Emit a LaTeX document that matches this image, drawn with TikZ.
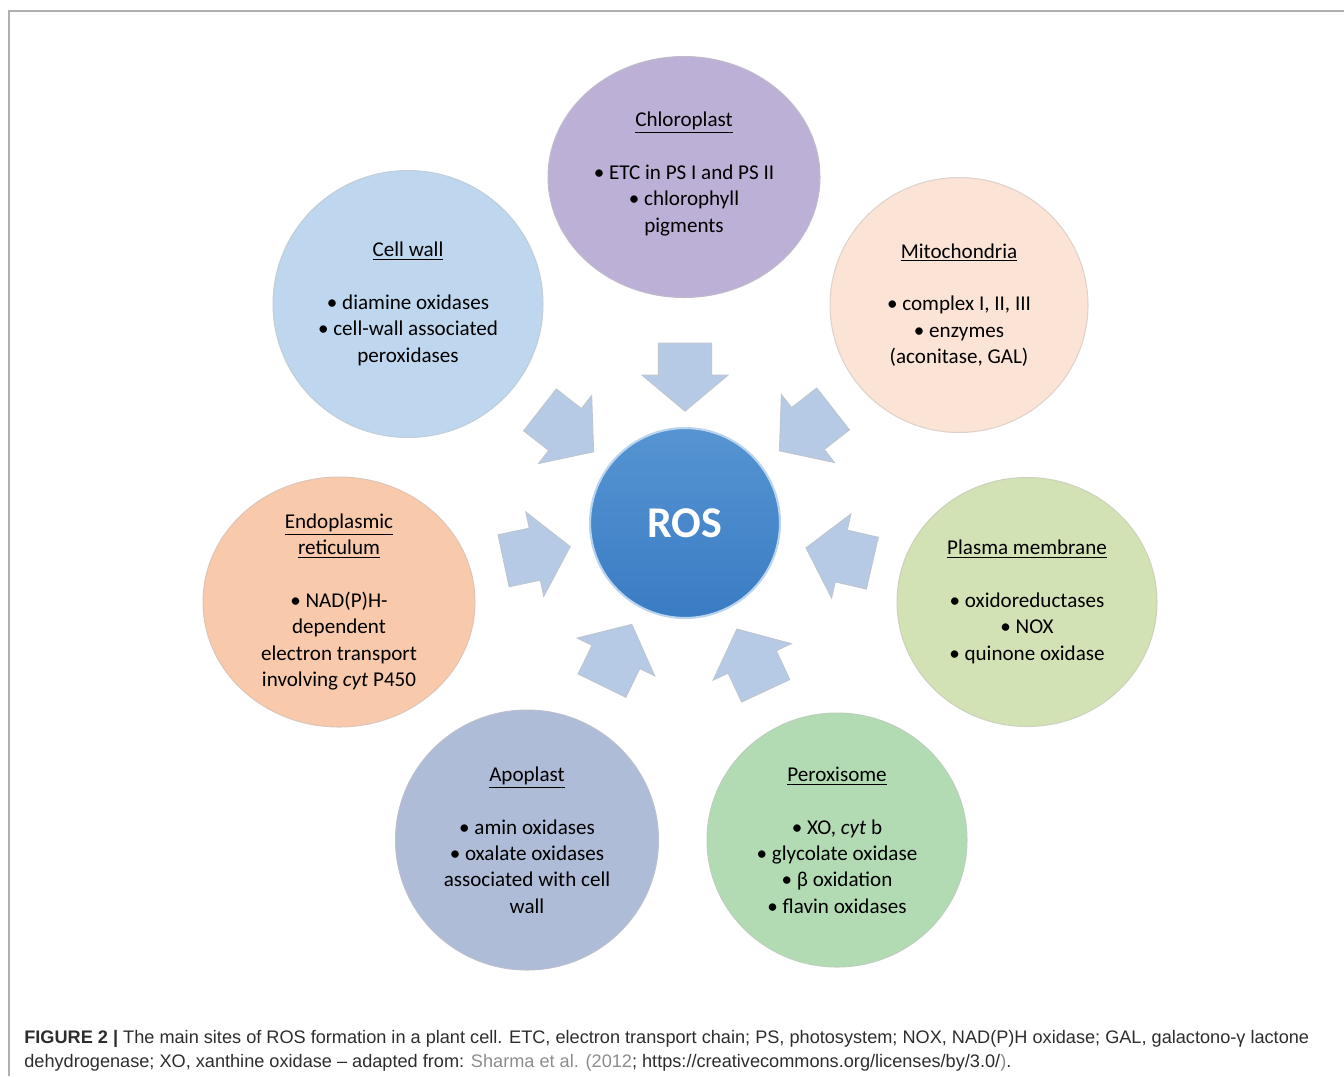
\documentclass[tikz,border=0pt]{standalone}
\usepackage{fontspec}
\setmainfont{Carlito}
\newfontfamily\capfont{Liberation Sans}
\usetikzlibrary{shapes.geometric,shapes.arrows}
\definecolor{chlorocol}{RGB}{189,176,214}
\definecolor{wallcol}{RGB}{190,215,238}
\definecolor{mitocol}{RGB}{251,227,213}
\definecolor{plasmacol}{RGB}{211,226,181}
\definecolor{peroxcol}{RGB}{178,219,180}
\definecolor{apocol}{RGB}{174,188,216}
\definecolor{ercol}{RGB}{248,201,171}
\definecolor{arrowcol}{RGB}{182,202,230}
\definecolor{rostop}{RGB}{86,148,210}
\definecolor{rosbot}{RGB}{58,124,196}
\definecolor{capgray}{RGB}{45,45,45}
\definecolor{linkgray}{RGB}{140,140,140}
\definecolor{framecol}{RGB}{176,176,176}
\tikzset{
  site/.style={ellipse, inner sep=0pt, fill=#1, draw=#1!80!black!60, line width=0.6pt},
  sitetext/.style={align=center, font=\fontsize{12}{15}\selectfont, text=black},
  inarrow/.style={single arrow, inner sep=0pt, minimum height=1.36cm,
    single arrow head extend=0.33cm, single arrow tip angle=100,
    fill=arrowcol, draw=arrowcol!75!black!55, line width=0.6pt, rotate=#1},
  captext/.style={anchor=base west, inner sep=0pt, text=capgray,
    font=\capfont\fontsize{10.33}{12}\selectfont},
}

\begin{document}
\begin{tikzpicture}[x=0.02cm, y=-0.02cm]
    \useasboundingbox (0,0) rectangle (1344,1076);
    \draw[framecol, line width=1.1pt] (9,1076) -- (9,11) -- (1344,11);

    \node[site=chlorocol, minimum width=5.44cm, minimum height=4.82cm] (chloro) at (684,177) {};
    \node[site=wallcol, minimum width=5.4cm, minimum height=5.34cm] (wall) at (408,304) {};
    \node[site=mitocol, minimum width=5.16cm, minimum height=5.1cm] (mito) at (959,305) {};
    \node[site=plasmacol, minimum width=5.2cm, minimum height=4.98cm] (plasma) at (1027,602) {};
    \node[site=peroxcol, minimum width=5.2cm, minimum height=5.08cm] (perox) at (837,840) {};
    \node[site=apocol, minimum width=5.26cm, minimum height=5.2cm] (apo) at (527,840) {};
    \node[site=ercol, minimum width=5.44cm, minimum height=5cm] (er) at (339,602) {};
    \node[circle, minimum size=3.8cm, top color=rostop, bottom color=rosbot,
      draw=white!60!rostop, line width=1.2pt, text=white,
      font=\bfseries\fontsize{25}{30}\selectfont] (ros) at (685,523) {ROS};

    \node[sitetext] (chloro-t) at ([yshift=0.06cm]chloro.center)
      {\underline{Chloroplast}\\[15pt] • ETC in PS I and PS II\\ • chlorophyll\\ pigments};
    \node[sitetext] (wall-t) at (wall)
      {\underline{Cell wall}\\[15pt] • diamine oxidases\\ • cell-wall associated\\ peroxidases};
    \node[sitetext] (mito-t) at (mito)
      {\underline{Mitochondria}\\[15pt] • complex I, II, III\\ • enzymes\\ (aconitase, GAL)};
    \node[sitetext] (plasma-t) at (plasma)
      {\underline{Plasma membrane}\\[15pt] • oxidoreductases\\ • NOX\\ • quinone oxidase};
    \node[sitetext] (perox-t) at (perox)
      {\underline{Peroxisome}\\[15pt] • XO, \textit{cyt} b\\ • glycolate oxidase\\ • β oxidation\\ • flavin oxidases};
    \node[sitetext] (apo-t) at (apo)
      {\underline{Apoplast}\\[15pt] • amin oxidases\\ • oxalate oxidases\\ associated with cell\\ wall};
    \node[sitetext] (er-t) at (er)
      {\underline{Endoplasmic}\\ \underline{reticulum}\\[15pt] • NAD(P)H-\\ dependent\\ electron transport\\ involving \textit{cyt} P450};

    \node[inarrow=-90] (chloro-a) at (685,366) {\rule{0pt}{1.04cm}};
    \node[inarrow=-38] (wall-a) at (558,424) {\rule{0pt}{1.04cm}};
    \node[inarrow=-142] (mito-a) at (815,423) {\rule{0pt}{1.04cm}};
    \node[inarrow=12] (er-a) at (526,556) {\rule{0pt}{1.04cm}};
    \node[inarrow=167] (plasma-a) at (850,558) {\rule{0pt}{1.04cm}};
    \node[inarrow=64] (apo-a) at (612,665) {\rule{0pt}{1.04cm}};
    \node[inarrow=115] (perox-a) at (756,670) {\rule{0pt}{1.04cm}};

    \node[captext] (cap1) at (24,1043) {\textbf{FIGURE 2 |} The main sites of ROS formation in a plant cell. ETC, electron transport chain; PS, photosystem; NOX, NAD(P)H oxidase; GAL, galactono-γ lactone};
    \node[captext] (cap2) at (24,1067) {dehydrogenase; XO, xanthine oxidase – adapted from: \textcolor{linkgray}{Sharma et al. (2012}; https://creativecommons.org/licenses/by/3.0/\textcolor{linkgray}{)}.};
\end{tikzpicture}
\end{document}
